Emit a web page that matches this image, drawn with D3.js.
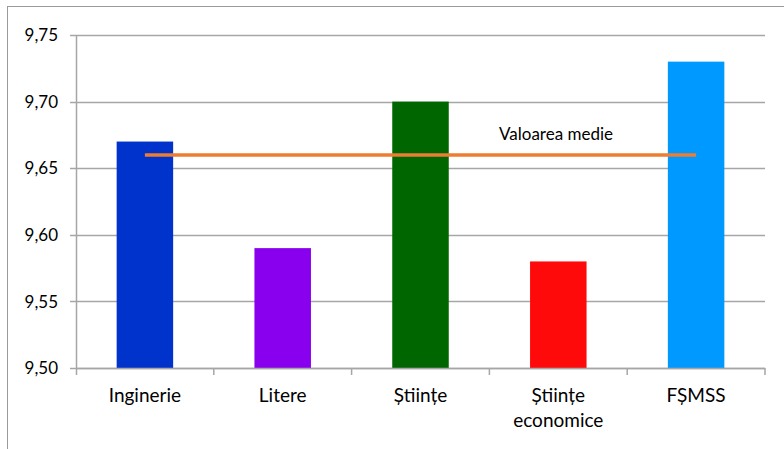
<!DOCTYPE html>
<html><head><meta charset="utf-8">
<script src="https://cdn.jsdelivr.net/npm/d3@7"></script>
<style>body{margin:0;background:#fff}svg{display:block}</style>
</head><body><svg id="c" width="784" height="449"></svg>
<script>
const categories = [["Inginerie"], ["Litere"], ["Științe"], ["Științe", "economice"], ["FȘMSS"]];
const values = [9.67, 9.59, 9.70, 9.58, 9.73];
const barColors = ["#0033CC", "#8800EE", "#006600", "#FF0A0A", "#0099FF"];
const meanValue = 9.66;
const meanLabel = "Valoarea medie";
const yTicks = [9.50, 9.55, 9.60, 9.65, 9.70, 9.75];

const svg = d3.select("#c");
const font = "Lato, 'Open Sans', sans-serif";
const L = 76, R = 765, T = 35, B = 368;

svg.append("rect").attr("x", 7.5).attr("y", 6.5).attr("width", 900).attr("height", 600)
  .attr("fill", "none").attr("stroke", "#9a9a9a").attr("stroke-width", 1);

const x = d3.scaleBand().domain(d3.range(categories.length)).range([L, R]).paddingInner(0.59).paddingOuter(0.295);
const xb = d3.scaleBand().domain(d3.range(categories.length)).range([L, R]);
const y = d3.scaleLinear().domain([9.5, 9.75]).range([B, T]);

// gridlines
svg.append("g").selectAll("line").data(yTicks).join("line")
  .attr("x1", L - 6).attr("x2", R).attr("y1", d => Math.round(y(d)) + 0.5).attr("y2", d => Math.round(y(d)) + 0.5)
  .attr("stroke", "#a6a6a6").attr("stroke-width", 1.5);

// y labels
svg.append("g").selectAll("text").data(yTicks).join("text")
  .attr("x", 58).attr("y", d => y(d)).attr("dy", "0.36em").attr("text-anchor", "end")
  .attr("font-family", font).attr("font-size", 17).attr("fill", "#000")
  .text(d => d3.format(".2f")(d).replace(".", ","));

// bars
svg.append("g").selectAll("rect").data(values).join("rect")
  .attr("x", (d, i) => x(i)).attr("width", x.bandwidth())
  .attr("y", d => y(d)).attr("height", d => y(9.5) - y(d))
  .attr("fill", (d, i) => barColors[i]);

// y axis line
svg.append("line").attr("x1", L + 0.5).attr("x2", L + 0.5).attr("y1", T).attr("y2", B + 7)
  .attr("stroke", "#a6a6a6").attr("stroke-width", 1.5);
// x axis ticks
svg.append("g").selectAll("line").data(d3.range(1, categories.length + 1)).join("line")
  .attr("x1", i => xb(0) + i * xb.bandwidth()).attr("x2", i => xb(0) + i * xb.bandwidth())
  .attr("y1", B).attr("y2", B + 7).attr("stroke", "#a6a6a6").attr("stroke-width", 1.5);
svg.append("line").attr("x1", L).attr("x2", R).attr("y1", B + 0.5).attr("y2", B + 0.5)
  .attr("stroke", "#a6a6a6").attr("stroke-width", 1.5);

// category labels
const cl = svg.append("g").selectAll("text").data(categories).join("text")
  .attr("x", (d, i) => xb(i) + xb.bandwidth() / 2).attr("y", 402)
  .attr("text-anchor", "middle").attr("font-family", font).attr("font-size", 19).attr("fill", "#000");
cl.selectAll("tspan").data(d => d).join("tspan")
  .attr("x", function() { return this.parentNode.getAttribute("x"); })
  .attr("dy", (d, j) => j === 0 ? 0 : 25).text(d => d);

// mean line
svg.append("line").attr("x1", xb(0) + xb.bandwidth() / 2).attr("x2", xb(4) + xb.bandwidth() / 2)
  .attr("y1", y(meanValue)).attr("y2", y(meanValue))
  .attr("stroke", "#ED7D31").attr("stroke-width", 3.5);
svg.append("text").attr("x", 556).attr("y", 140).attr("text-anchor", "middle")
  .attr("font-family", font).attr("font-size", 17).attr("fill", "#000").text(meanLabel);
</script></body></html>
